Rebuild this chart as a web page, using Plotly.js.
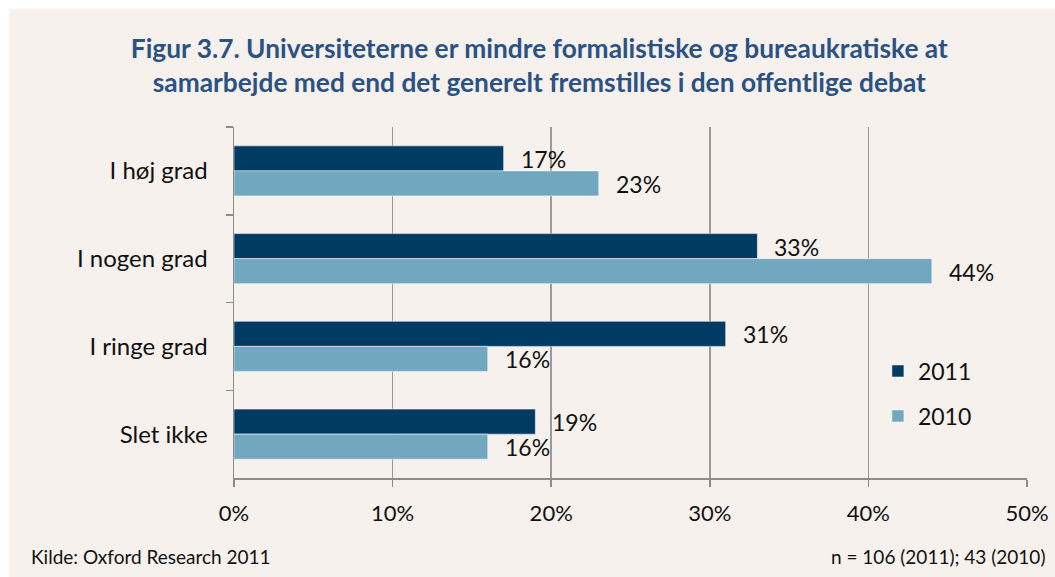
<!DOCTYPE html>
<html>
<head>
<meta charset="utf-8">
<script src="https://cdn.plot.ly/plotly-3.0.1.min.js"></script>
<style>
html,body{margin:0;padding:0;background:#ffffff;}
#chart{position:absolute;left:9px;top:9px;width:1046px;height:568px;}
</style>
</head>
<body>
<div id="chart"></div>
<script>
const categories = ["I høj grad", "I nogen grad", "I ringe grad", "Slet ikke"];
const values2011 = [0.17, 0.33, 0.31, 0.19];
const values2010 = [0.23, 0.44, 0.16, 0.16];
const seriesNames = ["2011", "2010"];
const xTickValues = [0, 0.1, 0.2, 0.3, 0.4, 0.5];
const xTickLabels = ["0%", "10%", "20%", "30%", "40%", "50%"];
const titleText = "Figur 3.7. Universiteterne er mindre formalistiske og bureaukratiske at<br>samarbejde med end det generelt fremstilles i den offentlige debat";
const sourceText = "Kilde: Oxford Research 2011";
const nText = "n = 106 (2011); 43 (2010)";

const FONT = "Lato, 'Open Sans', sans-serif";
const colors = ["#003b64", "#71a7bf"];
const seriesValues = [values2011, values2010];

function fmt(v){ return Math.round(v*100) + "%"; }

const traces = seriesValues.map((vals, i) => ({
  type: "bar",
  orientation: "h",
  name: seriesNames[i],
  y: categories,
  x: vals,
  marker: {color: colors[i], line: {color: "rgba(255,255,255,0.5)", width: 1}},
  legendgroup: "g" + i,
  hoverinfo: "x+y+name"
}));

const labelAnnotations = [];
seriesValues.forEach((vals, i) => {
  vals.forEach((v, j) => {
    labelAnnotations.push({
      x: v, y: categories[j], xref: "x", yref: "y",
      text: fmt(v), showarrow: false,
      xanchor: "left", yanchor: "middle",
      xshift: 15, yshift: i === 0 ? 12 : -13,
      font: {family: FONT, size: 23, color: "#111111"}
    });
  });
});

const layout = {
  width: 1046,
  height: 568,
  paper_bgcolor: "#f6f1ec",
  plot_bgcolor: "#f6f1ec",
  margin: {l: 225, r: 28, t: 118, b: 99},
  barmode: "group",
  bargap: 0.43,
  bargroupgap: 0,
  title: {
    text: titleText,
    font: {family: FONT, size: 26.3, color: "#2a5285", weight: "bold"},
    x: 0.507, xanchor: "center",
    y: 0.914, yanchor: "top"
  },
  xaxis: {
    range: [0, 0.5],
    tickvals: xTickValues,
    ticktext: xTickLabels,
    showgrid: true,
    gridcolor: "#9a9a9a",
    gridwidth: 1.5,
    zeroline: false,
    showline: true,
    linecolor: "#8c8c8c",
    linewidth: 1.5,
    ticks: "outside",
    ticklen: 7,
    tickcolor: "#8c8c8c",
    tickwidth: 1.5,
    ticklabelstandoff: 8,
    tickfont: {family: FONT, size: 22, color: "#111111"},
    fixedrange: true
  },
  yaxis: {
    type: "category",
    autorange: "reversed",
    showline: true,
    linecolor: "#8c8c8c",
    linewidth: 1.5,
    ticks: "outside",
    tickson: "boundaries",
    ticklen: 7,
    tickcolor: "#8c8c8c",
    tickwidth: 1.5,
    showgrid: false,
    ticklabelstandoff: 20,
    tickfont: {family: FONT, size: 24, color: "#111111"},
    fixedrange: true
  },
  showlegend: true,
  legend: {
    x: 0.812, xanchor: "left",
    y: 0.366, yanchor: "top",
    bgcolor: "rgba(0,0,0,0)",
    font: {family: FONT, size: 23, color: "#111111"},
    traceorder: "grouped",
    tracegroupgap: 12,
    itemwidth: 30
  },
  annotations: labelAnnotations.concat([
    {text: sourceText, xref: "paper", yref: "paper", x: -0.2585, y: -0.225, xanchor: "left", yanchor: "middle", showarrow: false, font: {family: FONT, size: 19, color: "#111111"}},
    {text: nText, xref: "paper", yref: "paper", x: 1.0252, y: -0.225, xanchor: "right", yanchor: "middle", showarrow: false, font: {family: FONT, size: 19, color: "#111111"}}
  ])
};

Plotly.newPlot("chart", traces, layout, {displayModeBar: false, staticPlot: true});
</script>
</body>
</html>
